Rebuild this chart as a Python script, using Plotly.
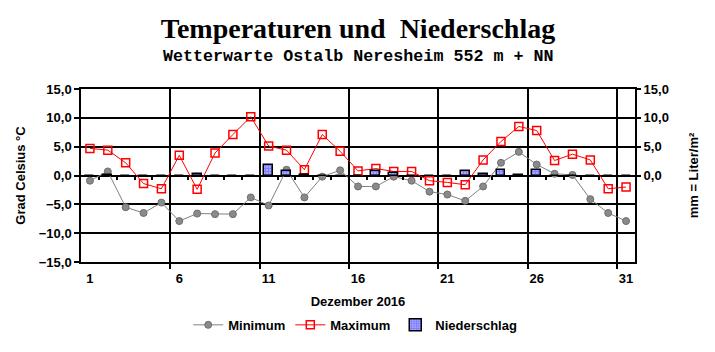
import plotly.graph_objects as go

days = list(range(1, 32))
t_min = [-0.9, 0.7, -5.5, -6.5, -4.7, -7.9, -6.6, -6.7, -6.7, -3.8,
         -5.2, 1.0, -3.8, -0.2, 0.9, -1.9, -1.9, -0.2, -0.9, -2.8,
         -3.3, -4.4, -1.9, 2.2, 4.1, 1.9, 0.3, 0.1, -4.1, -6.5, -7.9]
t_max = [4.7, 4.4, 2.2, -1.4, -2.3, 3.5, -2.4, 3.9, 7.1, 10.2,
         5.1, 4.4, 1.0, 7.1, 4.2, 0.8, 1.2, 0.7, 0.7, -0.9,
         -1.2, -1.6, 2.7, 5.9, 8.5, 7.8, 2.6, 3.7, 2.7, -2.3, -2.0]
precip = [0.0, 0.1, 0.0, 0.0, 0.0, 0.0, 0.2, 0.0, 0.0, 0.0,
          1.9, 0.7, 0.1, 0.0, 0.0, 0.0, 0.8, 0.4, 0.0, 0.0,
          0.0, 0.8, 0.3, 1.0, 0.1, 1.0, 0.0, 0.0, 0.0, 0.0, 0.0]
x_ticks = [1, 6, 11, 16, 21, 26, 31]
grid_x = [5.5, 10.5, 15.5, 20.5, 25.5, 30.5]
day_bounds = [d + 0.5 for d in range(1, 31)]
y_ticks_left = [-15, -10, -5, 0, 5, 10, 15]
y_ticks_right = [0, 5, 10, 15]

FONT = "Arial, Liberation Sans, sans-serif"
bold13 = dict(family=FONT, size=13, color="black", weight="bold")

fig = go.Figure()

fig.add_trace(go.Bar(
    x=days, y=precip, name="Niederschlag", xaxis="x2", yaxis="y2",
    width=0.5, legendrank=3,
    marker=dict(color="white",
                line=dict(color="black", width=1.5),
                pattern=dict(shape=".", fgcolor="#0000ff", bgcolor="white",
                             size=3, solidity=0.8)),
))
fig.add_trace(go.Scatter(
    x=days, y=t_min, name="Minimum", mode="lines+markers", legendrank=1,
    line=dict(color="#808080", width=1),
    marker=dict(symbol="circle", size=7, color="#8a8a8a",
                line=dict(color="#6e6e6e", width=1)),
))
fig.add_trace(go.Scatter(
    x=days, y=t_max, name="Maximum", mode="lines+markers", legendrank=2,
    line=dict(color="#ff0000", width=1),
    marker=dict(symbol="square-open", size=8, color="#ff0000",
                line=dict(color="#ff0000", width=1.5)),
))

fig.update_layout(
    width=715, height=352,
    margin=dict(l=81, r=80, t=89, b=87),
    paper_bgcolor="white", plot_bgcolor="white",
    separators=",.",
    bargap=0,
    title=dict(text="Temperaturen und&nbsp; Niederschlag",
               font=dict(family="Liberation Serif, Times New Roman, serif",
                         size=28, color="black", weight="bold"),
               x=0.5, xanchor="center", xref="paper",
               y=1 - 28 / 352, yref="container", yanchor="middle"),
    annotations=[dict(
        text="Wetterwarte Ostalb Neresheim 552 m + NN",
        font=dict(family="Liberation Mono, Courier New, monospace",
                  size=16.7, color="black", weight="bold"),
        xref="paper", yref="paper", x=0.5, y=(265 - 56) / 176,
        xanchor="center", yanchor="middle", showarrow=False)],
    legend=dict(orientation="h", x=0.495, xanchor="center",
                y=(265 - 329) / 176, yanchor="middle",
                font=bold13, bgcolor="rgba(0,0,0,0)",
                itemwidth=30, tracegroupgap=0),
    xaxis=dict(
        range=[0.5, 31.5], tickvals=x_ticks, ticks="", showgrid=False,
        showline=True, linecolor="black", linewidth=1.5, mirror=True,
        zeroline=False, tickfont=bold13, ticklabelstandoff=4,
        title=dict(text="Dezember 2016", font=bold13, standoff=12),
        minor=dict(tickvals=grid_x, ticks="outside", ticklen=5,
                   tickcolor="black", tickwidth=1.5,
                   showgrid=True, gridcolor="black", gridwidth=1.5),
    ),
    xaxis2=dict(
        range=[0.5, 31.5], overlaying="x", anchor="free", position=0.5,
        side="bottom", tickvals=day_bounds, ticks="outside", ticklen=3,
        tickcolor="black", tickwidth=1.5, showticklabels=False,
        showgrid=False, showline=False, zeroline=False,
    ),
    yaxis=dict(
        range=[-15, 15], tickvals=y_ticks_left, tickformat=".1f",
        ticks="outside", ticklen=5, tickcolor="black", tickwidth=1.5,
        showgrid=True, gridcolor="black", gridwidth=1.5,
        zeroline=True, zerolinecolor="black", zerolinewidth=1.5,
        showline=True, linecolor="black", linewidth=1.5, mirror=True,
        tickfont=bold13,
        title=dict(text="Grad Celsius °C", font=bold13, standoff=10),
    ),
    yaxis2=dict(
        range=[-15, 15], overlaying="y", side="right", anchor="x",
        tickvals=y_ticks_right, tickformat=".1f",
        ticks="outside", ticklen=5, tickcolor="black", tickwidth=1.5,
        showgrid=False, zeroline=False, showline=False,
        tickfont=bold13,
        title=dict(text="mm = Liter/m²", font=bold13, standoff=20),
    ),
)

fig.write_html("out.html")
